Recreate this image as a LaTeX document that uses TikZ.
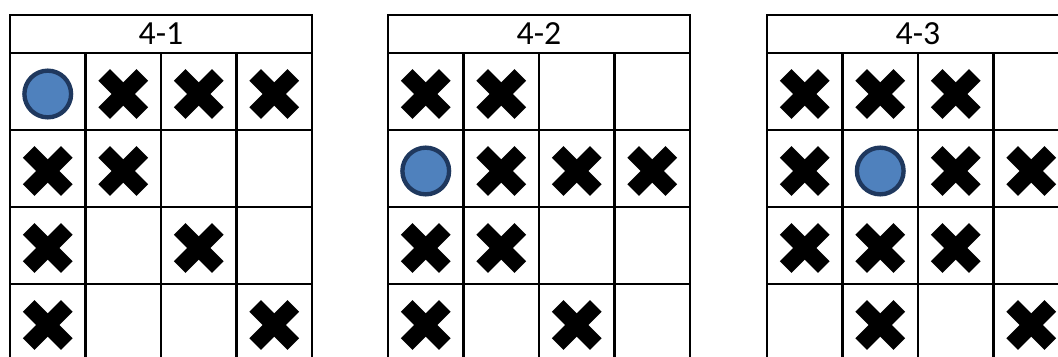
\documentclass[tikz,border=0pt]{standalone}
\usepackage{fontspec}
\setmainfont{Carlito}
\usepackage{tikz}
\definecolor{tokenfill}{HTML}{4F81BD}
\definecolor{tokenedge}{RGB}{31,56,94}

\tikzset{
    xmark/.pic = {
        \fill[rotate=45] (-27,-8.25) rectangle (27,8.25);
        \fill[rotate=-45] (-27,-8.25) rectangle (27,8.25);
    },
    omark/.pic = {
        \draw[draw=tokenedge, fill=tokenfill, line width=3.1pt] (0,0) circle[radius=16.6pt];
    }
}

\begin{document}
\begin{tikzpicture}[
        x=0.025cm, y=-0.025cm,
        gridline/.style = {draw=black, line width=1.6pt},
        headtext/.style = {inner sep=0pt, font=\fontsize{24}{28}\selectfont}
    ]
    \clip (0,0) rectangle (1058,356);

    % Boards
    \foreach \gx/\name/\lbl in {10/ga/4-1, 388/gb/4-2, 767/gc/4-3} {
        \draw[gridline] (\gx,15) rectangle ({\gx+302},361);
        \foreach \ly in {53,130,207,284}
            \draw[gridline] (\gx,\ly) -- ({\gx+302},\ly);
        \foreach \k in {1,2,3}
            \draw[gridline] ({\gx+75.5*\k},53) -- ({\gx+75.5*\k},361);
        \node[headtext] (\name-head) at ({\gx+151},34) {\lbl};
        % cell centres
        \foreach \c in {1,...,4}
            \foreach \r in {1,...,4}
                \coordinate (\name-\c-\r) at ({\gx+75.5*(\c-0.5)},{94+77*(\r-1)});
    }

    % 4-1
    \pic at (ga-1-1) {omark};
    \foreach \cell in {2-1,3-1,4-1,1-2,2-2,1-3,3-3,1-4,4-4}
        \pic at (ga-\cell) {xmark};

    % 4-2
    \pic at (gb-1-2) {omark};
    \foreach \cell in {1-1,2-1,2-2,3-2,4-2,1-3,2-3,1-4,3-4}
        \pic at (gb-\cell) {xmark};

    % 4-3
    \pic at (gc-2-2) {omark};
    \foreach \cell in {1-1,2-1,3-1,1-2,3-2,4-2,1-3,2-3,3-3,2-4,4-4}
        \pic at (gc-\cell) {xmark};

\end{tikzpicture}
\end{document}
